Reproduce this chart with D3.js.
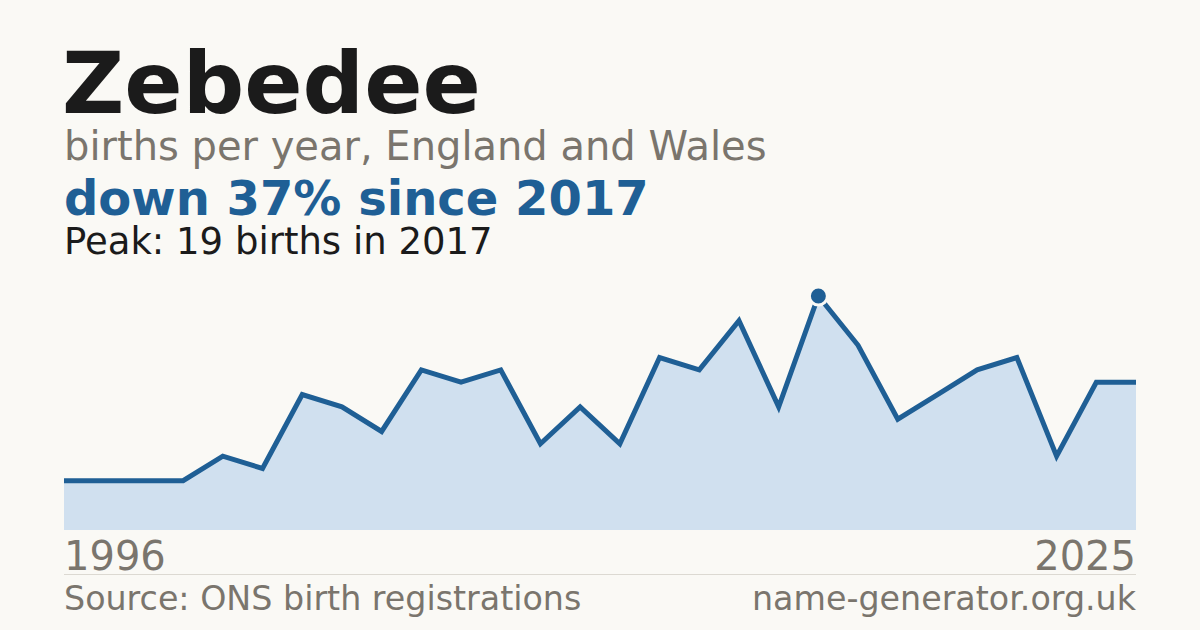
<!DOCTYPE html>
<html>
<head>
<meta charset="utf-8">
<script src="https://cdn.jsdelivr.net/npm/d3@7"></script>
<style>
  body { margin: 0; background: #faf9f5; }
  svg { display: block; font-family: "DejaVu Sans", sans-serif; }
</style>
</head>
<body>
<script>
var width = 1200;
var height = 630;

// years with a registered count (missing years were suppressed)
var years = [1996, 1998, 2000, 2001, 2002, 2003, 2004, 2005, 2006, 2007, 2008, 2009, 2010,
  2011, 2012, 2013, 2014, 2015, 2016, 2017, 2018, 2019, 2020, 2021, 2022, 2023, 2024, 2025];
var births = [4, 4, 4, 4, 6, 5, 11, 10, 8, 13, 12, 13, 7,
  10, 7, 14, 13, 17, 10, 19, 15, 9, 11, 13, 14, 6, 12, 12];
var axisLabels = ["1996", "2025"];

var blue = "#1f5f95";
var grey = "#7a756d";

var data = years.map(function (y, i) {
  return { year: y, value: births[i] };
});

var xScale = d3.scalePoint().domain(years).range([64, 1136]);
var yScale = d3.scaleLinear().domain([0, 19]).range([530, 296]);

const svg = d3
  .select("body")
  .append("svg")
  .attr("width", width)
  .attr("height", height);

svg.append("rect")
  .attr("width", width)
  .attr("height", height)
  .attr("fill", "#faf9f5");

// headings
svg.append("text")
  .attr("x", 62).attr("y", 113)
  .attr("font-size", 86).attr("font-weight", "bold")
  .attr("fill", "#1b1b1b")
  .text("Zebedee");

svg.append("text")
  .attr("x", 64).attr("y", 160)
  .attr("font-size", 40)
  .attr("fill", grey)
  .text("births per year, England and Wales");

svg.append("text")
  .attr("x", 64).attr("y", 215)
  .attr("font-size", 48).attr("font-weight", "bold")
  .attr("fill", blue)
  .text("down 37% since 2017");

svg.append("text")
  .attr("x", 64).attr("y", 254)
  .attr("font-size", 37)
  .attr("fill", "#1b1b1b")
  .text("Peak: 19 births in 2017");

// area + line
var area = d3.area()
  .x(function (d) { return xScale(d.year); })
  .y0(yScale(0))
  .y1(function (d) { return yScale(d.value); });

var line = d3.line()
  .x(function (d) { return xScale(d.year); })
  .y(function (d) { return yScale(d.value); });

svg.append("path")
  .datum(data)
  .attr("d", area)
  .attr("fill", "#d0e0ef");

svg.append("path")
  .datum(data)
  .attr("d", line)
  .attr("fill", "none")
  .attr("stroke", blue)
  .attr("stroke-width", 5)
  .attr("stroke-linejoin", "miter");

// peak marker
var peak = data.reduce(function (a, b) { return b.value > a.value ? b : a; });
svg.append("circle")
  .attr("cx", xScale(peak.year))
  .attr("cy", yScale(peak.value))
  .attr("r", 9)
  .attr("fill", blue)
  .attr("stroke", "#faf9f5")
  .attr("stroke-width", 3);

// year labels
svg.append("text")
  .attr("x", 64).attr("y", 570)
  .attr("font-size", 40)
  .attr("fill", grey)
  .text(axisLabels[0]);

svg.append("text")
  .attr("x", 1136).attr("y", 570)
  .attr("font-size", 40)
  .attr("text-anchor", "end")
  .attr("fill", grey)
  .text(axisLabels[1]);

svg.append("line")
  .attr("x1", 64).attr("x2", 1136)
  .attr("y1", 574.5).attr("y2", 574.5)
  .attr("stroke", "#dcd9d2")
  .attr("stroke-width", 1);

// footer
svg.append("text")
  .attr("x", 64).attr("y", 610)
  .attr("font-size", 33.3)
  .attr("fill", grey)
  .text("Source: ONS birth registrations");

svg.append("text")
  .attr("x", 1136).attr("y", 610)
  .attr("font-size", 33.3)
  .attr("text-anchor", "end")
  .attr("fill", grey)
  .text("name-generator.org.uk");
</script>
</body>
</html>
